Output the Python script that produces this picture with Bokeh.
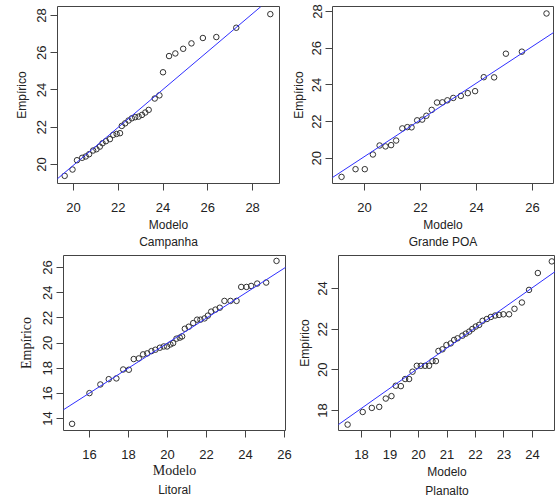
from bokeh.plotting import figure
from bokeh.models import Range1d, Title, Slope, FixedTicker
from bokeh.layouts import column, row
from bokeh.embed import file_html
from bokeh.resources import INLINE

# ---- Campanha ----
camp_modelo = [19.61, 19.96, 20.16, 20.39, 20.55, 20.70, 20.88, 21.03, 21.18, 21.30,
               21.45, 21.63, 21.78, 21.93, 22.08, 22.16, 22.31, 22.46, 22.61, 22.76,
               22.91, 23.06, 23.21, 23.36, 23.63, 23.84, 24.00, 24.27, 24.55, 24.90,
               25.27, 25.78, 26.38, 27.27, 28.79]
camp_empirico = [19.39, 19.73, 20.23, 20.36, 20.43, 20.55, 20.75, 20.82, 20.96, 21.14,
                 21.25, 21.36, 21.59, 21.64, 21.68, 22.07, 22.21, 22.36, 22.48, 22.54,
                 22.57, 22.66, 22.79, 22.93, 23.54, 23.71, 24.95, 25.82, 25.96, 26.21,
                 26.50, 26.79, 26.84, 27.34, 28.07]
camp_qqline = [-0.39, 1.0175]  # intercept, slope

# ---- Grande POA ----
poa_modelo = [19.18, 19.68, 20.01, 20.30, 20.54, 20.75, 20.95, 21.13, 21.35, 21.53,
              21.68, 21.88, 22.06, 22.21, 22.40, 22.59, 22.78, 22.96, 23.17, 23.44,
              23.69, 23.95, 24.26, 24.63, 25.05, 25.62, 26.50]
poa_empirico = [18.99, 19.41, 19.41, 20.21, 20.70, 20.65, 20.72, 20.97, 21.63, 21.70,
                21.69, 22.07, 22.11, 22.32, 22.64, 23.04, 23.05, 23.16, 23.29, 23.40,
                23.55, 23.66, 24.42, 24.41, 25.70, 25.81, 27.89]
poa_qqline = [0.10, 1.0]

# ---- Litoral ----
lit_modelo = [15.11, 16.00, 16.56, 16.99, 17.38, 17.73, 18.02, 18.27, 18.53, 18.75,
              18.96, 19.18, 19.38, 19.61, 19.81, 19.98, 20.15, 20.29, 20.46, 20.63,
              20.75, 20.89, 21.09, 21.32, 21.52, 21.69, 21.90, 22.07, 22.24, 22.46,
              22.68, 22.92, 23.23, 23.54, 23.78, 24.05, 24.29, 24.60, 25.06, 25.59]
lit_empirico = [13.58, 16.02, 16.71, 17.13, 17.19, 17.90, 17.88, 18.73, 18.78, 19.10,
                19.18, 19.36, 19.47, 19.63, 19.73, 19.73, 19.89, 20.00, 20.35, 20.43,
                20.53, 21.14, 21.30, 21.59, 21.86, 21.86, 21.96, 22.18, 22.50, 22.66,
                22.81, 23.35, 23.35, 23.35, 24.46, 24.46, 24.54, 24.73, 24.81, 26.53]
lit_qqline = [0.12, 0.994]

# ---- Planalto ----
pla_modelo = [17.51, 18.04, 18.36, 18.62, 18.85, 19.05, 19.20, 19.38, 19.53, 19.67,
              19.79, 19.94, 20.08, 20.23, 20.37, 20.49, 20.61, 20.70, 20.84, 20.98,
              21.13, 21.25, 21.37, 21.54, 21.66, 21.78, 21.89, 22.01, 22.13, 22.25,
              22.40, 22.54, 22.69, 22.83, 22.98, 23.18, 23.37, 23.63, 23.88, 24.19, 24.68]
pla_empirico = [17.31, 17.93, 18.13, 18.18, 18.59, 18.71, 19.22, 19.20, 19.55, 19.55,
                19.91, 20.20, 20.20, 20.20, 20.20, 20.43, 20.43, 20.93, 21.01, 21.22,
                21.30, 21.47, 21.55, 21.68, 21.78, 21.88, 22.01, 22.13, 22.21, 22.41,
                22.50, 22.60, 22.67, 22.70, 22.73, 22.73, 23.00, 23.31, 23.93, 24.76, 25.33]
pla_qqline = [0.33, 0.988]

SANS = "Liberation Sans"
SERIF = "Liberation Serif"
TXT = "#222222"


def panel(xs, ys, qq, name, xr, yr, xt, yt, fw, fh, bl, br, bt, bb,
          label_font=SANS, label_size="12px", ylab_standoff=6, xlab_standoff=3,
          title_standoff=0):
    p = figure(frame_width=fw, frame_height=fh, min_border_left=bl, min_border_right=br,
               min_border_top=bt, min_border_bottom=bb, title=None,
               x_range=Range1d(*xr), y_range=Range1d(*yr),
               output_backend="svg", toolbar_location=None)
    p.grid.visible = False
    p.background_fill_color = "white"
    p.border_fill_color = "white"
    p.outline_line_color = "#444444"
    p.outline_line_width = 1
    for ax, ticks in ((p.xaxis[0], xt), (p.yaxis[0], yt)):
        ax.ticker = FixedTicker(ticks=ticks)
        ax.axis_line_color = None
        ax.major_tick_in = 0
        ax.major_tick_out = 7
        ax.major_tick_line_color = "#444444"
        ax.minor_tick_line_color = None
        ax.major_label_text_font = SANS
        ax.major_label_text_font_size = "13px"
        ax.major_label_text_color = TXT
        ax.axis_label_text_font = label_font
        ax.axis_label_text_font_size = label_size
        ax.axis_label_text_font_style = "normal"
        ax.axis_label_text_color = TXT
    p.xaxis[0].axis_label = "Modelo"
    p.yaxis[0].axis_label = "Empírico"
    p.xaxis[0].major_label_standoff = 12
    p.yaxis[0].major_label_standoff = 4
    p.yaxis[0].major_label_orientation = "vertical"
    p.xaxis[0].axis_label_standoff = xlab_standoff
    p.yaxis[0].axis_label_standoff = ylab_standoff
    p.add_layout(Slope(gradient=qq[1], y_intercept=qq[0], line_color="#2f2fff", line_width=1))
    p.scatter(xs, ys, marker="circle", size=5.5, fill_color=None,
              line_color="#333333", line_width=1)
    p.add_layout(Title(text=name, align="center", text_font=SANS, text_font_size="12px",
                       text_font_style="normal", text_color=TXT, standoff=title_standoff),
                 "below")
    return p


p1 = panel(camp_modelo, camp_empirico, camp_qqline, "Campanha",
           (19.29, 29.2), (18.98, 28.48), [20, 22, 24, 26, 28], [20, 22, 24, 26, 28],
           222, 177, 57, 3, 6, 67, ylab_standoff=6, title_standoff=-4)
p2 = panel(poa_modelo, poa_empirico, poa_qqline, "Grande POA",
           (18.857, 26.75), (18.63, 28.27), [20, 22, 24, 26], [20, 22, 24, 26, 28],
           221, 177, 50, 2, 6, 67, ylab_standoff=4, title_standoff=-4)
p3 = panel(lit_modelo, lit_empirico, lit_qqline, "Litoral",
           (14.67, 26.05), (13.05, 26.96), [16, 18, 20, 22, 24, 26], [14, 16, 18, 20, 22, 24, 26],
           222, 175, 63, 7, 5, 68, label_font=SERIF, label_size="14px", ylab_standoff=7,
           xlab_standoff=1)
p4 = panel(pla_modelo, pla_empirico, pla_qqline, "Planalto",
           (17.19, 24.81), (17.02, 25.62), [18, 19, 20, 21, 22, 23, 24], [18, 20, 22, 24],
           217, 175, 46, 0, 5, 68, ylab_standoff=4, xlab_standoff=3)

layout = column(row(p1, p2), row(p3, p4))
open("out.html", "w").write(file_html(layout, INLINE))
